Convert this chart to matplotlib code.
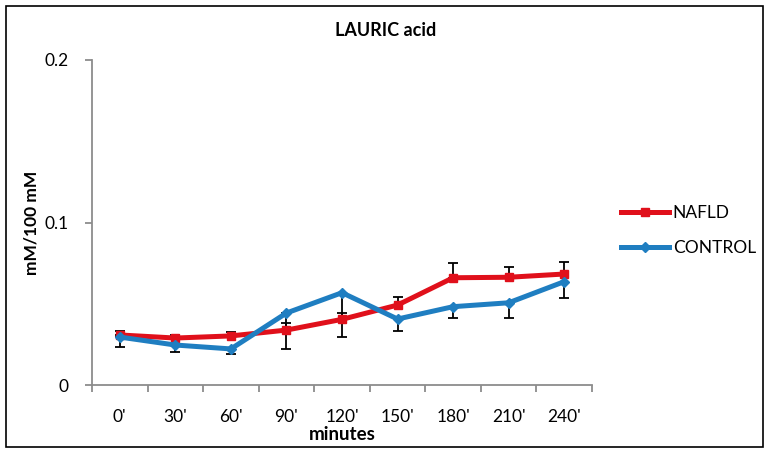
import matplotlib.pyplot as plt
import numpy as np
from matplotlib.patches import Rectangle

plt.rcParams['font.family'] = ['Lato', 'DejaVu Sans']

# Time points and series means (mM/100 mM)
minutes = ["0'", "30'", "60'", "90'", "120'", "150'", "180'", "210'", "240'"]
nafld = [0.0308, 0.0289, 0.0302, 0.0338, 0.0404, 0.0492, 0.0660, 0.0663, 0.0683]
control = [0.0295, 0.0246, 0.0222, 0.0443, 0.0568, 0.0406, 0.0482, 0.0506, 0.0636]

# Error bars: NAFLD shown upward, CONTROL shown downward
nafld_err = [0.0025, 0.0020, 0.0027, 0.0041, 0.0037, 0.0048, 0.0089, 0.0065, 0.0076]
control_err = [0.0060, 0.0045, 0.0033, 0.0222, 0.0270, 0.0074, 0.0071, 0.0092, 0.0102]

red = '#E0101B'
blue = '#1F7EC1'
grey = '#8C8C8C'

fig = plt.figure(figsize=(7.69, 4.51), dpi=100)
ax = fig.add_axes([92 / 769, 1 - 385 / 451, 500 / 769, 325 / 451])

x = np.arange(len(minutes))
zero = np.zeros(len(x))

# error bars sit under the lines
ax.errorbar(x, nafld, yerr=[zero, nafld_err], fmt='none', ecolor='black',
            elinewidth=1.3, capsize=3.8, capthick=1.3, zorder=2)
ax.errorbar(x, control, yerr=[control_err, zero], fmt='none', ecolor='black',
            elinewidth=1.3, capsize=3.8, capthick=1.3, zorder=2)

ax.plot(x, nafld, color=red, linewidth=3.6, marker='s', markersize=6,
        label='NAFLD', zorder=3)
ax.plot(x, control, color=blue, linewidth=3.6, marker='D', markersize=5.5,
        label='CONTROL', zorder=4)

ax.set_xlim(-0.5, len(x) - 0.5)
ax.set_ylim(0, 0.2)
ax.set_yticks([0, 0.1, 0.2])
ax.set_yticklabels(['0', '0.1', '0.2'])
ax.set_xticks(x)
ax.set_xticklabels(minutes)
ax.set_xticks(np.arange(-0.5, len(x), 1), minor=True)
ax.tick_params(axis='x', which='major', length=0, labelsize=12.5, pad=17)
ax.tick_params(axis='x', which='minor', length=5, color=grey, width=1.3)
ax.tick_params(axis='y', length=5, color=grey, width=1.3, labelsize=12.5, pad=12)

for side in ['top', 'right']:
    ax.spines[side].set_visible(False)
for side in ['left', 'bottom']:
    ax.spines[side].set_color(grey)
    ax.spines[side].set_linewidth(1.3)

# chart title is centred on the whole figure
fig.text(386 / 769, 1 - 30 / 451, 'LAURIC acid', fontsize=13, fontweight='bold',
         ha='center', va='center')
ax.set_xlabel('minutes', fontsize=13.5, fontweight='bold')
ax.xaxis.set_label_coords(0.5, -0.125)
ax.set_ylabel('mM/100 mM', fontsize=12.5, fontweight='bold')
ax.yaxis.set_label_coords(-0.105, 0.5)

ax.legend(loc='upper left', bbox_to_anchor=(1.04, 0.58), frameon=False,
          fontsize=12.5, handlelength=2.8, handletextpad=0.2, labelspacing=1.1,
          borderpad=0)

# border around the whole chart area
fig.patches.append(Rectangle((6 / 769, 4 / 451), 757 / 769, 441 / 451,
                             transform=fig.transFigure, fill=False,
                             edgecolor='black', linewidth=1.2))

fig.savefig('out.png', dpi=100)
